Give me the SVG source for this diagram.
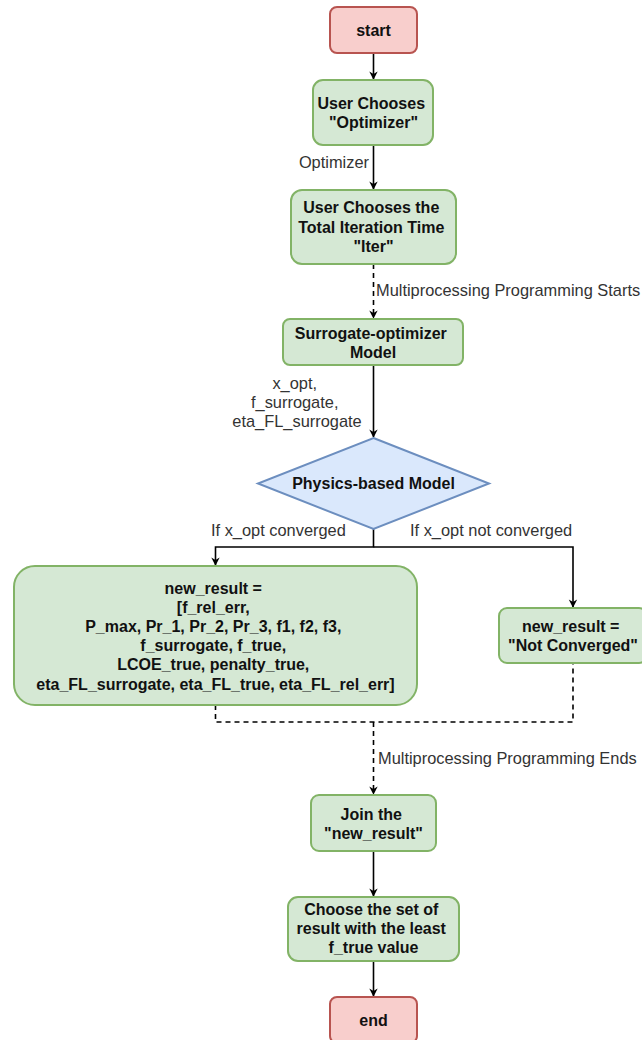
<svg xmlns="http://www.w3.org/2000/svg" width="642" height="1040" viewBox="0 0 642 1040">
  <style>
    .green { fill: #d5e8d4; stroke: #82b366; stroke-width: 2; }
    .red { fill: #f8cecc; stroke: #b85450; stroke-width: 2; }
    .blue { fill: #dae8fc; stroke: #6c8ebf; stroke-width: 2; }
    .node-text { font-family: "Liberation Sans", Arial, sans-serif; font-size: 16px; font-weight: bold; fill: #111; text-anchor: middle; }
    .label { font-family: "Liberation Sans", Arial, sans-serif; font-size: 16.4px; fill: #333; }
    .edge { fill: none; stroke: #000; stroke-width: 1.6; }
    .dashed { stroke-dasharray: 5 4; }
  </style>
  <defs>
    <marker id="arrow" viewBox="0 0 10 10" refX="9" refY="5" markerWidth="7" markerHeight="7" markerUnits="userSpaceOnUse" orient="auto" overflow="visible">
      <path d="M0,0 L10,5 L0,10 L3,5 z" fill="#000" transform="scale(1.2) translate(-1.5,-0.8)"/>
    </marker>
  </defs>
  <rect width="642" height="1040" fill="#fff"/>

  <!-- connectors -->
  <g id="connectors">
    <path class="edge" d="M373.5,53 V79" marker-end="url(#arrow)"/>
    <path class="edge" d="M373.5,145 V189" marker-end="url(#arrow)"/>
    <path class="edge dashed" d="M373.5,264 V318" marker-end="url(#arrow)"/>
    <path class="edge" d="M373.5,365 V437" marker-end="url(#arrow)"/>
    <path class="edge" d="M373.5,529 V547 H215.5 V565" marker-end="url(#arrow)"/>
    <path class="edge" d="M373.5,547 H573 V607" marker-end="url(#arrow)"/>
    <path class="edge dashed" d="M215.5,705 V722 H573 V663"/>
    <path class="edge dashed" d="M373.5,722 V794" marker-end="url(#arrow)"/>
    <path class="edge" d="M373.5,851 V896" marker-end="url(#arrow)"/>
    <path class="edge" d="M373.5,961 V996" marker-end="url(#arrow)"/>

    <text class="label" x="369" y="168" text-anchor="end">Optimizer</text>
    <text class="label" x="376" y="296">Multiprocessing Programming Starts</text>
    <text class="label" text-anchor="middle">
      <tspan x="297" y="389">x_opt,</tspan>
      <tspan x="297" y="408">f_surrogate,</tspan>
      <tspan x="297" y="427">eta_FL_surrogate</tspan>
    </text>
    <text class="label" x="211" y="536">If x_opt converged</text>
    <text class="label" x="410" y="536">If x_opt not converged</text>
    <text class="label" x="378" y="764">Multiprocessing Programming Ends</text>
  </g>

  <g id="start">
    <rect class="red" x="330" y="7" width="87" height="46" rx="7"/>
    <text class="node-text" x="373.5" y="36">start</text>
  </g>

  <g id="choose-optimizer">
    <rect class="green" x="313" y="80" width="120" height="65" rx="10"/>
    <text class="node-text">
      <tspan x="373.5" y="109">User Chooses</tspan>
      <tspan x="373.5" y="128">"Optimizer"</tspan>
    </text>
  </g>

  <g id="choose-iter">
    <rect class="green" x="291" y="190" width="165" height="74" rx="11"/>
    <text class="node-text">
      <tspan x="373.5" y="213">User Chooses the</tspan>
      <tspan x="373.5" y="233">Total Iteration Time</tspan>
      <tspan x="373.5" y="252">"Iter"</tspan>
    </text>
  </g>

  <g id="surrogate-model">
    <rect class="green" x="283" y="319" width="180" height="46" rx="7"/>
    <text class="node-text">
      <tspan x="373" y="339">Surrogate-optimizer</tspan>
      <tspan x="373" y="358">Model</tspan>
    </text>
  </g>

  <g id="physics-model">
    <polygon class="blue" points="373.5,438 489,483.5 373.5,529 258,483.5"/>
    <text class="node-text" x="373.5" y="489">Physics-based Model</text>
  </g>

  <g id="converged-result">
    <rect class="green" x="14" y="566" width="403" height="139" rx="21"/>
    <text class="node-text">
      <tspan x="215.5" y="593.5">new_result =</tspan>
      <tspan x="215.5" y="612.7">[f_rel_err,</tspan>
      <tspan x="215.5" y="631.9">P_max, Pr_1, Pr_2, Pr_3, f1, f2, f3,</tspan>
      <tspan x="215.5" y="651.1">f_surrogate, f_true,</tspan>
      <tspan x="215.5" y="670.3">LCOE_true, penalty_true,</tspan>
      <tspan x="215.5" y="689.5">eta_FL_surrogate, eta_FL_true, eta_FL_rel_err]</tspan>
    </text>
  </g>

  <g id="not-converged-result">
    <rect class="green" x="499" y="608" width="148" height="55" rx="8"/>
    <text class="node-text">
      <tspan x="573" y="632">new_result =</tspan>
      <tspan x="573" y="651">"Not Converged"</tspan>
    </text>
  </g>

  <g id="join-result">
    <rect class="green" x="311" y="795" width="125" height="56" rx="8"/>
    <text class="node-text">
      <tspan x="373.5" y="820">Join the</tspan>
      <tspan x="373.5" y="839">"new_result"</tspan>
    </text>
  </g>

  <g id="choose-best">
    <rect class="green" x="288" y="897" width="171" height="64" rx="10"/>
    <text class="node-text">
      <tspan x="373.5" y="915">Choose the set of</tspan>
      <tspan x="373.5" y="934">result with the least</tspan>
      <tspan x="373.5" y="953">f_true value</tspan>
    </text>
  </g>

  <g id="end">
    <rect class="red" x="330" y="997" width="87" height="46" rx="7"/>
    <text class="node-text" x="373.5" y="1026">end</text>
  </g>
</svg>
